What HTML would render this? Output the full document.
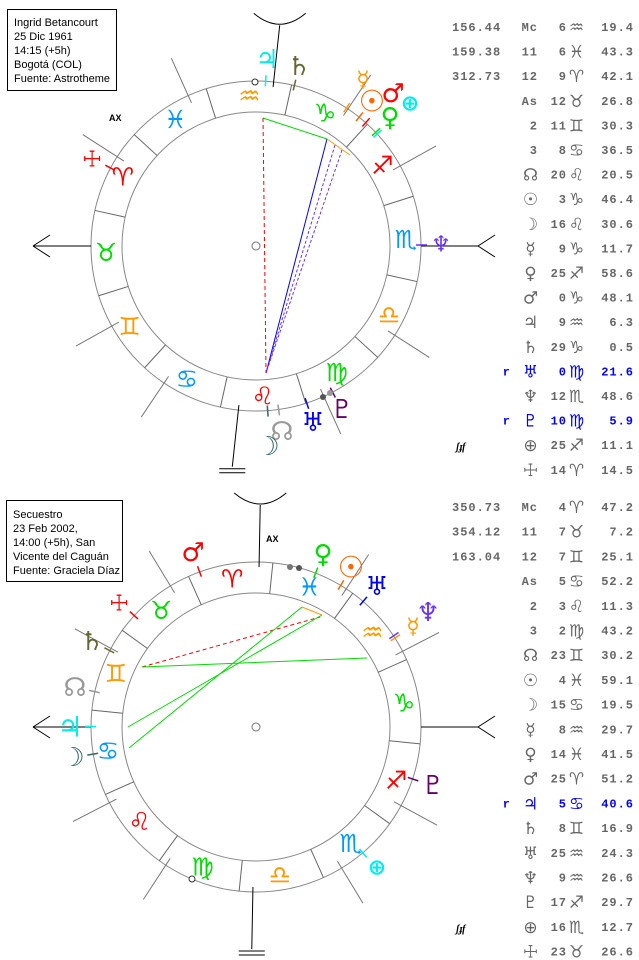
<!DOCTYPE html>
<html><head><meta charset="utf-8">
<style>
html,body{margin:0;padding:0;background:#fff;}
svg{display:block;}
.box{font-family:"Liberation Sans",sans-serif;font-size:11px;fill:#000;}
.g{font-family:"DejaVu Sans",sans-serif;font-weight:bold;text-anchor:middle;dominant-baseline:central;}
.t{font-family:"Liberation Mono",monospace;font-weight:bold;font-size:12px;fill:#666;letter-spacing:1px;dominant-baseline:central;}
</style></head>
<body>
<svg id="s" width="639" height="960" viewBox="0 0 639 960" xmlns="http://www.w3.org/2000/svg">
<rect x="7.5" y="9.5" width="109" height="81" fill="#fff" stroke="#000"/>
<text class="box" x="14" y="26">Ingrid Betancourt</text>
<text class="box" x="14" y="40">25 Dic 1961</text>
<text class="box" x="14" y="54">14:15 (+5h)</text>
<text class="box" x="14" y="68">Bogotá (COL)</text>
<text class="box" x="14" y="82">Fuente: Astrotheme</text>
<rect x="6.5" y="500.5" width="116" height="81" fill="#fff" stroke="#000"/>
<text class="box" x="13" y="518">Secuestro</text>
<text class="box" x="13" y="532">23 Feb 2002,</text>
<text class="box" x="13" y="546">14:00 (+5h), San</text>
<text class="box" x="13" y="560">Vicente del Caguán</text>
<text class="box" x="13" y="574">Fuente: Graciela Díaz</text>
</svg>
<script>
var S=document.getElementById('s'),NS='http://www.w3.org/2000/svg',V='\uFE0E';
function el(n,a,t){var e=document.createElementNS(NS,n);for(var k in a)e.setAttribute(k,a[k]);if(t!=null)e.textContent=t;S.appendChild(e);return e;}
function ln(x1,y1,x2,y2,c,w,d){var a={x1:x1,y1:y1,x2:x2,y2:y2,stroke:c,'stroke-width':w||1};if(d)a['stroke-dasharray']=d;el('line',a);}
var SG=['♈','♉','♊','♋','♌','♍','♎','♏','♐','♑','♒','♓'];
var SC=['#f00','#0d0','#f90','#09f','#f00','#0d0','#f90','#09f','#f00','#0d0','#f90','#09f'];
function chart(cx,cy,asc,houses,pl,asp,extra){
 function P(l,r){var t=(l-asc+180)*Math.PI/180;return [cx+r*Math.cos(t),cy-r*Math.sin(t)];}
 el('circle',{cx:cx,cy:cy,r:165,fill:'none',stroke:'#888'});
 el('circle',{cx:cx,cy:cy,r:134,fill:'none',stroke:'#888'});
 el('circle',{cx:cx,cy:cy,r:4,fill:'#fff',stroke:'#777'});
 for(var k=0;k<12;k++){var a=P(k*30,134),b=P(k*30,165);ln(a[0],a[1],b[0],b[1],'#666');
  var m=P(k*30+15,150);el('text',{class:'g',x:m[0],y:m[1],fill:SC[k],'font-size':25},SG[k]+V);}
 [1,2,4,5].forEach(function(i){[0,180].forEach(function(o){var a=P(houses[i]+o,157),b=P(houses[i]+o,206);ln(a[0],a[1],b[0],b[1],'#777');});});
 var mc=houses[0];var a=P(mc,160),b=P(mc,222);ln(a[0],a[1],b[0],b[1],'#000');
 el('path',{d:'M'+(b[0]-26)+' '+(b[1]-12)+' Q'+b[0]+' '+(b[1]+10)+' '+(b[0]+26)+' '+(b[1]-12),fill:'none',stroke:'#000'});
 a=P(mc+180,160);b=P(mc+180,222);ln(a[0],a[1],b[0],b[1],'#000');
 ln(b[0]-13,b[1]+2,b[0]+13,b[1]+2,'#000');ln(b[0]-13,b[1]+6,b[0]+13,b[1]+6,'#000');
 ln(cx-165,cy,33,cy,'#000');ln(33,cy,50,cy-11,'#000');ln(33,cy,50,cy+11,'#000');
 ln(cx+165,cy,478,cy,'#000');ln(478,cy,495,cy-11,'#000');ln(478,cy,495,cy+11,'#000');
 asp.forEach(function(s){ln(s[0],s[1],s[2],s[3],s[4],1,s[5]);});
 pl.forEach(function(p){var a=P(p[1],160),b=P(p[1],171);ln(a[0],a[1],b[0],b[1],p[2],1.5);
  el('text',{class:'g',x:p[3],y:p[4],fill:p[2],'font-size':p[5]||26},p[0]+V);});
 extra&&extra();
}
chart(256,246,42.45,[306.32,336.72,9.7,42.45,71.5,98.6],[
 ['♃',309.1,'#0ee',267,60],['♄',299,'#663',299,67],['☿',279.2,'#f90',363,80,22],['☉',273.77,'#f60',372,102,30],
 ['♂',270.8,'#f00',393,94],['⊕',265.18,'#0ee',410,104,22],['♀',265.97,'#0d0',390,118],['♆',222.8,'#63f',441,245,22],
 ['♇',160.1,'#606',342,410],['♅',150.36,'#00f',313,423],['☊',140.34,'#999',282,432],['☽',136.5,'#366',268,447],['☩',14.24,'#f00',92,160,22]
],[[263,118,327,139,'#0d0'],[327,139,266,373,'#00f'],[335,145,266,373,'#63f','3,2'],[342,150,266,373,'#63f','3,2'],[263,118,266,373,'#f00','4,3'],[327,139,350,155,'#f90']],
function(){el('text',{x:109,y:121,'font-family':'Liberation Sans','font-weight':'bold','font-size':9},'AX');
 el('circle',{cx:255,cy:82,r:3,fill:'#fff',stroke:'#333'});el('circle',{cx:323,cy:397,r:3,fill:'#555'});el('circle',{cx:330,cy:393,r:3,fill:'#999'});});
chart(256,727,95.87,[4.78,37.12,67.42,95.87,123.18,152.72],[
 ['♂',25.85,'#f00',193,553],['♀',344.7,'#0d0',323,555],['☉',334.98,'#f60',351,568,30],['♅',325.4,'#00f',377,587],
 ['♆',309.4,'#63f',428,613],['☿',308.5,'#f90',413,627,22],['♄',68.28,'#663',92,642],['☩',53.4,'#f00',119,604,22],
 ['☊',83.5,'#999',75,688],['♃',95.67,'#0ee',70,727,28],['☽',105.33,'#366',73,758],['♇',257.5,'#606',433,786],['⊕',226.2,'#0ee',377,868,22]
],[[142,667,320,617,'#f00','4,3'],[142,667,367,658,'#0d0'],[128,727,322,615,'#0d0'],[129,748,302,607,'#0d0'],[302,607,322,615,'#f90']],
function(){el('text',{x:266,y:542,'font-family':'Liberation Sans','font-weight':'bold','font-size':9},'AX');
 el('circle',{cx:290,cy:567,r:3,fill:'#777'});el('circle',{cx:299,cy:568,r:3,fill:'#555'});el('circle',{cx:192,cy:879,r:3,fill:'#fff',stroke:'#333'});});
function table(y0,dy,rows){rows.forEach(function(r,i){var y=y0+i*dy,c=r[5]?'#00f':'#666';
 function T(x,s,anc,ff,fs){if(!s)return;var e=el('text',{class:'t',x:x,y:y,fill:c,'text-anchor':anc||'end'},s);e.setAttribute('style','fill:'+c+(ff?';font-family:"DejaVu Sans",sans-serif;font-size:'+(fs||13)+'px;font-weight:normal':''));}
 T(452,r[0],'start');
 var glyph=!/^[0-9A-Za-z]/.test(r[1]);
 if(glyph)T(531,r[1]+V,'middle',1,17);else T(538,r[1]);
 T(567,r[2]);T(577,r[3]+V,'middle',1,17);T(634,r[4]);
 if(r[5])T(511,'r');
 if(r[6])el('text',{x:456,y:y+4,'font-family':'Liberation Serif','font-weight':'bold','font-style':'italic','font-size':10},'ʃɟf');
});}
table(28,24.6,[['156.44','Mc','6','♒','19.4'],['159.38','11','6','♓','43.3'],['312.73','12','9','♈','42.1'],['','As','12','♉','26.8'],['','2','11','♊','30.3'],['','3','8','♋','36.5'],
['','☊','20','♌','20.5'],['','☉','3','♑','46.4'],['','☽','16','♌','30.6'],['','☿','9','♑','11.7'],['','♀','25','♐','58.6'],['','♂','0','♑','48.1'],['','♃','9','♒','6.3'],['','♄','29','♑','0.5'],
['','♅','0','♍','21.6',1],['','♆','12','♏','48.6'],['','♇','10','♍','5.9',1],['','⊕','25','♐','11.1',0,1],['','☩','14','♈','14.5']]);
table(508,24.7,[['350.73','Mc','4','♈','47.2'],['354.12','11','7','♉','7.2'],['163.04','12','7','♊','25.1'],['','As','5','♋','52.2'],['','2','3','♌','11.3'],['','3','2','♍','43.2'],
['','☊','23','♊','30.2'],['','☉','4','♓','59.1'],['','☽','15','♋','19.5'],['','☿','8','♒','29.7'],['','♀','14','♓','41.5'],['','♂','25','♈','51.2'],['','♃','5','♋','40.6',1],['','♄','8','♊','16.9'],
['','♅','25','♒','24.3'],['','♆','9','♒','26.6'],['','♇','17','♐','29.7'],['','⊕','16','♏','12.7',0,1],['','☩','23','♉','26.6']]);
</script>
</body></html>
